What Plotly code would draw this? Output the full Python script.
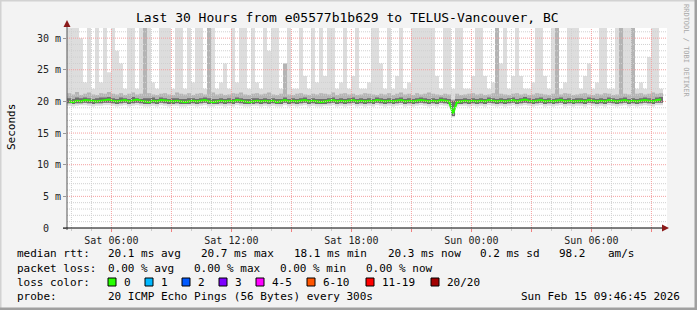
import plotly.graph_objects as go

# ---------------- data (12-minute columns, hours since Sat 03:46:45) ----------------
COL_HOURS = 0.2
ping_max = [
    45, 45, 45, 30, 23, 45, 22, 45, 23, 45,
    24.6, 45, 28, 26, 22, 45, 45, 22, 45, 45,
    45, 23, 22, 45, 45, 45, 22, 45, 45, 22,
    45, 23, 45, 45, 22, 45, 45, 22, 23, 26,
    22, 45, 23, 45, 45, 22, 45, 23, 22, 45,
    28, 45, 45, 22, 26, 45, 22, 22, 45, 24,
    22, 45, 23, 45, 24, 45, 45, 22, 23, 45,
    22, 24, 45, 22, 22, 23, 45, 45, 26, 22,
    45, 22, 24, 45, 22, 23, 45, 45, 45, 45,
    45, 45, 24, 22, 45, 45, 22, 45, 45, 22,
    22, 24, 45, 45, 24, 22, 23, 45, 26, 45,
    22, 24, 45, 24, 22, 22, 23, 45, 45, 24,
    22, 45, 45, 22, 23, 45, 45, 45, 22, 24,
    26, 22, 23, 45, 45, 22, 22, 45, 45, 45,
    45, 45, 22, 23, 22, 27, 45, 45, 22]
ping_p90 = [
    21.3, 21.1, 21.5, 21.0, 21.2, 21.4, 21.1, 21.0, 21.3, 21.2,
    21.5, 21.2, 21.1, 21.3, 21.0, 21.2, 21.4, 21.1, 21.2, 45,
    21.3, 21.1, 21.0, 21.2, 21.3, 21.1, 21.0, 21.4, 21.2, 21.1,
    21.3, 21.0, 21.2, 21.3, 21.1, 45, 21.4, 21.1, 21.2, 21.0,
    21.1, 21.3, 21.2, 21.4, 21.1, 21.0, 21.2, 21.3, 21.1, 21.2,
    21.4, 21.1, 21.0, 21.2, 26.0, 21.1, 21.0, 21.2, 21.3, 21.1,
    21.0, 21.2, 21.1, 21.3, 21.2, 21.1, 21.4, 21.0, 21.2, 21.3,
    21.1, 21.2, 21.0, 21.1, 21.3, 21.2, 21.1, 21.0, 21.2, 21.1,
    21.3, 21.0, 21.2, 21.4, 21.1, 21.2, 21.0, 21.3, 21.1, 21.2,
    21.4, 21.2, 21.1, 21.0, 21.2, 21.1, 20.3, 21.2, 21.0, 21.1,
    21.2, 21.3, 21.1, 21.2, 21.0, 21.1, 21.3, 45, 21.2, 21.1,
    21.0, 21.2, 21.3, 21.1, 21.2, 21.0, 21.1, 21.3, 21.2, 21.1,
    21.0, 21.2, 45, 21.1, 21.3, 21.2, 21.0, 21.1, 21.2, 21.3,
    21.1, 21.0, 21.2, 21.1, 21.3, 21.2, 21.0, 21.1, 45, 21.2,
    21.1, 45, 21.2, 21.3, 21.1, 21.2, 21.4, 21.2, 21.3]
ping_p75 = [
    20.5, 20.4, 20.6, 20.5, 20.6, 20.5, 20.4, 20.5, 20.6, 20.6,
    20.7, 20.5, 20.4, 20.6, 20.5, 20.4, 20.7, 20.5, 20.4, 20.5,
    20.5, 20.6, 20.4, 20.6, 20.5, 20.4, 20.5, 20.5, 20.4, 20.4,
    20.5, 20.5, 20.4, 20.5, 20.6, 20.5, 20.4, 20.4, 20.5, 20.4,
    20.5, 20.4, 20.6, 20.5, 20.4, 20.4, 20.5, 20.5, 20.4, 20.5,
    20.4, 20.5, 20.4, 20.4, 20.6, 20.4, 20.5, 20.4, 20.5, 20.6,
    20.4, 20.5, 20.4, 20.4, 20.4, 20.5, 20.6, 20.4, 20.5, 20.4,
    20.5, 20.6, 20.4, 20.5, 20.4, 20.5, 20.4, 20.6, 20.5, 20.4,
    20.5, 20.4, 20.5, 20.6, 20.4, 20.5, 20.4, 20.5, 20.6, 20.5,
    20.4, 20.5, 20.4, 20.6, 20.5, 20.4, 20.1, 20.4, 20.4, 20.5,
    20.4, 20.5, 20.4, 20.5, 20.4, 20.6, 20.5, 20.4, 20.5, 20.4,
    20.5, 20.6, 20.4, 20.5, 20.7, 20.5, 20.4, 20.5, 20.6, 20.4,
    20.5, 20.4, 20.5, 20.6, 20.4, 20.5, 20.4, 20.5, 20.5, 20.4,
    20.6, 20.5, 20.4, 20.5, 20.4, 20.6, 20.5, 20.4, 20.5, 20.6,
    20.4, 20.5, 20.4, 20.5, 20.6, 20.5, 20.4, 20.6, 20.7]
median_rtt = [
    20.0, 19.9, 20.1, 20.0, 20.2, 20.1, 20.0, 20.0, 20.1, 20.2,
    20.3, 20.1, 20.0, 20.1, 20.2, 20.0, 20.1, 20.3, 20.1, 20.0,
    19.9, 20.1, 20.0, 20.2, 20.1, 20.0, 20.0, 20.1, 20.0, 19.9,
    20.0, 20.1, 20.0, 20.1, 20.2, 20.0, 19.9, 20.0, 20.1, 20.0,
    20.1, 20.0, 20.2, 20.1, 20.0, 19.9, 20.0, 20.1, 20.0, 20.1,
    20.0, 20.1, 19.9, 20.0, 20.2, 20.0, 20.1, 20.0, 20.1, 20.2,
    20.0, 20.1, 20.0, 19.9, 20.0, 20.1, 20.2, 20.0, 20.1, 20.0,
    20.1, 20.2, 20.0, 20.1, 20.0, 20.1, 20.0, 20.2, 20.1, 20.0,
    20.1, 20.0, 20.1, 20.2, 20.0, 20.1, 20.0, 20.1, 20.2, 20.1,
    20.0, 20.1, 20.0, 20.2, 20.1, 20.0, 18.1, 19.9, 20.0, 20.1,
    20.0, 20.1, 20.0, 20.1, 20.0, 20.2, 20.1, 20.0, 20.1, 20.0,
    20.1, 20.2, 20.0, 20.1, 20.3, 20.1, 20.0, 20.1, 20.2, 20.0,
    20.1, 20.0, 20.1, 20.2, 20.0, 20.1, 20.0, 20.1, 20.1, 20.0,
    20.2, 20.1, 20.0, 20.1, 20.0, 20.2, 20.1, 20.0, 20.1, 20.2,
    20.0, 20.1, 20.0, 20.1, 20.2, 20.1, 20.0, 20.2, 20.3]
ping_p25 = [
    19.7, 19.6, 19.7, 19.7, 19.8, 19.7, 19.6, 19.7, 19.7, 19.8,
    19.8, 19.7, 19.6, 19.7, 19.8, 19.6, 19.7, 19.8, 19.7, 19.6,
    19.6, 19.7, 19.6, 19.8, 19.7, 19.6, 19.6, 19.7, 19.6, 19.6,
    19.6, 19.7, 19.6, 19.7, 19.8, 19.6, 19.6, 19.6, 19.7, 19.6,
    19.7, 19.6, 19.8, 19.7, 19.6, 19.6, 19.6, 19.7, 19.6, 19.7,
    19.6, 19.7, 19.6, 19.6, 19.8, 19.6, 19.7, 19.6, 19.7, 19.8,
    19.6, 19.7, 19.6, 19.6, 19.6, 19.7, 19.8, 19.6, 19.7, 19.6,
    19.7, 19.8, 19.6, 19.7, 19.6, 19.7, 19.6, 19.8, 19.7, 19.6,
    19.7, 19.6, 19.7, 19.8, 19.6, 19.7, 19.6, 19.7, 19.8, 19.7,
    19.6, 19.7, 19.6, 19.8, 19.7, 19.6, 17.7, 19.6, 19.6, 19.7,
    19.6, 19.7, 19.6, 19.7, 19.6, 19.8, 19.7, 19.6, 19.7, 19.6,
    19.7, 19.8, 19.6, 19.7, 19.8, 19.7, 19.6, 19.7, 19.8, 19.6,
    19.7, 19.6, 19.7, 19.8, 19.6, 19.7, 19.6, 19.7, 19.7, 19.6,
    19.8, 19.7, 19.6, 19.7, 19.6, 19.8, 19.7, 19.6, 19.7, 19.8,
    19.6, 19.7, 19.6, 19.7, 19.8, 19.7, 19.6, 19.8, 19.8]
ping_min = [
    19.3, 19.2, 19.3, 19.4, 19.4, 19.3, 19.2, 19.3, 19.3, 19.4,
    19.4, 19.3, 19.2, 19.3, 19.4, 19.2, 19.3, 19.4, 19.3, 19.2,
    19.2, 19.3, 19.2, 19.4, 19.3, 19.2, 19.3, 19.3, 19.2, 19.2,
    19.3, 19.3, 19.2, 19.3, 19.4, 19.2, 19.2, 19.3, 19.3, 19.2,
    19.3, 19.2, 19.4, 19.3, 19.2, 19.2, 19.3, 19.3, 19.2, 19.3,
    19.2, 19.3, 19.2, 19.2, 19.4, 19.2, 19.3, 19.2, 19.3, 19.4,
    19.2, 19.3, 19.2, 19.2, 19.3, 19.3, 19.4, 19.2, 19.3, 19.2,
    19.3, 19.4, 19.2, 19.3, 19.2, 19.3, 19.2, 19.4, 19.3, 19.2,
    19.3, 19.2, 19.3, 19.4, 19.2, 19.3, 19.2, 19.3, 19.4, 19.3,
    19.2, 19.3, 19.2, 19.4, 19.3, 19.2, 17.5, 19.2, 19.3, 19.3,
    19.2, 19.3, 19.2, 19.3, 19.2, 19.4, 19.3, 19.2, 19.3, 19.2,
    19.3, 19.4, 19.2, 19.3, 19.4, 19.3, 19.2, 19.3, 19.4, 19.2,
    19.3, 19.2, 19.3, 19.4, 19.2, 19.3, 19.2, 19.3, 19.3, 19.2,
    19.4, 19.3, 19.2, 19.3, 19.2, 19.4, 19.3, 19.2, 19.3, 19.4,
    19.2, 19.3, 19.2, 19.3, 19.4, 19.3, 19.2, 19.4, 19.4]

x_tick_hours = [2.220833, 8.220833, 14.220833, 20.220833, 26.220833]
x_tick_labels = ["Sat 06:00", "Sat 12:00", "Sat 18:00", "Sun 00:00", "Sun 06:00"]
y_tick_vals = [0, 5, 10, 15, 20, 25, 30]
y_tick_labels = ["0\u00a0\u00a0", "5 m", "10 m", "15 m", "20 m", "25 m", "30 m"]

title_text = "Last 30 Hours from e05577b1b629 to TELUS-Vancouver, BC"
rtt_row = ["median rtt:", "20.1 ms avg", "20.7 ms max", "18.1 ms min", "20.3 ms now", "0.2 ms sd", "98.2", "am/s"]
loss_row = ["packet loss:", "0.00 % avg", "0.00 % max", "0.00 % min", "0.00 % now"]
loss_labels = ["0", "1", "2", "3", "4-5", "6-10", "11-19", "20/20"]
loss_colors = ["#26ff00", "#00b8ff", "#0059ff", "#7e00ff", "#ff00ff", "#ff5500", "#ff0000", "#a10000"]
probe_text = "20 ICMP Echo Pings (56 Bytes) every 300s"
stamp_text = "Sun Feb 15 09:46:45 2026"

# ---------------- geometry ----------------
W, H = 697, 310
L, R, T, B = 67, 667, 28, 228
X_RANGE = [0, 30]
Y_RANGE = [0, 31.6]
MONO = "DejaVu Sans Mono"


def px(xp):
    return (xp - L) / (R - L)


def py(yp):
    return (B - yp) / (B - T)


n = len(median_rtt)
x_edges = [i * COL_HOURS for i in range(n + 1)]


def step(vals):
    return x_edges, list(vals) + [vals[-1]]


fig = go.Figure()


def band(lo, hi, color):
    xs, ys = step(lo)
    fig.add_trace(go.Scatter(x=xs, y=ys, mode="lines", line=dict(width=0, shape="hv"),
                             hoverinfo="skip", showlegend=False))
    xs, ys = step(hi)
    fig.add_trace(go.Scatter(x=xs, y=ys, mode="lines", line=dict(width=0, shape="hv"),
                             fill="tonexty", fillcolor=color, hoverinfo="skip", showlegend=False))


band(ping_min, ping_max, "#dddddd")
band(ping_p25, ping_p90, "#b4b4b4")
band(ping_p25, ping_p75, "#6e6e6e")

x_mid = [(x_edges[i] + x_edges[i + 1]) / 2 for i in range(n)]
fig.add_trace(go.Scatter(x=x_mid, y=median_rtt, mode="lines",
                         line=dict(color=loss_colors[0], width=2.2), showlegend=False))

# tick positions every 3 hours, labelled every 6 hours
tick_vals_x, tick_text_x = [], []
for k in range(-1, 10):
    v = x_tick_hours[0] + 3 * k
    if X_RANGE[0] < v < X_RANGE[1]:
        tick_vals_x.append(v)
        tick_text_x.append(x_tick_labels[k // 2] if k % 2 == 0 and 0 <= k // 2 < len(x_tick_labels) else "")

shapes = []
major_x = tick_vals_x
minor_x = [x_tick_hours[0] - 2 + k for k in range(0, 31)]
minor_x = [v for v in minor_x if X_RANGE[0] < v < X_RANGE[1]
           and all(abs(v - m) > 1e-6 for m in major_x)]
for v in minor_x:
    shapes.append(dict(type="line", xref="x", yref="paper", x0=v, x1=v, y0=0, y1=1,
                       line=dict(color="#d0d0d0", width=1, dash="1px,1px"), layer="above"))
for v in range(1, 32):
    if v % 5 and v < Y_RANGE[1]:
        shapes.append(dict(type="line", xref="paper", yref="y", x0=0, x1=1, y0=v, y1=v,
                           line=dict(color="#d0d0d0", width=1, dash="1px,1px"), layer="above"))
for v in major_x:
    shapes.append(dict(type="line", xref="x", yref="paper", x0=v, x1=v, y0=0, y1=1,
                       line=dict(color="#f4a0a0", width=1, dash="1px,1px"), layer="above"))
for v in y_tick_vals[1:]:
    shapes.append(dict(type="line", xref="paper", yref="y", x0=0, x1=1, y0=v, y1=v,
                       line=dict(color="#f4a0a0", width=1, dash="1px,1px"), layer="above"))

# axes with arrows
shapes.append(dict(type="line", xref="paper", yref="paper", x0=px(67), x1=px(67), y0=py(230), y1=py(25),
                   line=dict(color="#555555", width=1), layer="above"))
shapes.append(dict(type="line", xref="paper", yref="paper", x0=px(63), x1=px(664), y0=py(228), y1=py(228),
                   line=dict(color="#000000", width=1), layer="above"))
shapes.append(dict(type="path", xref="paper", yref="paper",
                   path=f"M {px(63.5)} {py(27)} L {px(67)} {py(20)} L {px(70.5)} {py(27)} Z",
                   fillcolor="#8b1a1a", line=dict(width=0), layer="above"))
shapes.append(dict(type="path", xref="paper", yref="paper",
                   path=f"M {px(662)} {py(224.5)} L {px(669)} {py(228)} L {px(662)} {py(231.5)} Z",
                   fillcolor="#8b1a1a", line=dict(width=0), layer="above"))

# frame
shapes.append(dict(type="line", xref="paper", yref="paper", x0=px(0), x1=px(W), y0=py(0.5), y1=py(0.5),
                   line=dict(color="#d2d2d2", width=2)))
shapes.append(dict(type="line", xref="paper", yref="paper", x0=px(0.5), x1=px(0.5), y0=py(0), y1=py(H),
                   line=dict(color="#d2d2d2", width=2)))
shapes.append(dict(type="line", xref="paper", yref="paper", x0=px(0), x1=px(W), y0=py(H - 1), y1=py(H - 1),
                   line=dict(color="#a0a0a0", width=3)))
shapes.append(dict(type="line", xref="paper", yref="paper", x0=px(W - 1), x1=px(W - 1), y0=py(0), y1=py(H),
                   line=dict(color="#a0a0a0", width=3)))

# loss colour squares
sq_x = [108, 145, 182, 219, 256, 307, 366, 431]
lab_x = [123, 160, 197, 234, 271, 322, 381, 446]
for i, c in enumerate(loss_colors):
    shapes.append(dict(type="rect", xref="paper", yref="paper",
                       x0=px(sq_x[i]), x1=px(sq_x[i] + 8), y0=py(278), y1=py(286),
                       fillcolor=c, line=dict(color="#000000", width=1)))

ann = []


def text(s, xp, yp, size=11, anchor="left", color="#000000", angle=0, yanchor="middle"):
    ann.append(dict(text=s, x=px(xp), y=py(yp), xref="paper", yref="paper", showarrow=False,
                    xanchor=anchor, yanchor=yanchor, textangle=angle, borderpad=0,
                    font=dict(family=MONO, size=size, color=color)))


text(title_text, 347.5, 18, size=13, anchor="center")
text("Seconds", 11, 127, size=11, anchor="center", angle=-90)
text("RRDTOOL / TOBI OETIKER", 686, 51, size=7, anchor="center", color="#a8a8a8", angle=90)

rtt_x = [16, 107, 200, 293, 387, 479, 558, 607]
for s, xp in zip(rtt_row, rtt_x):
    text(s, xp, 254)
loss_x = [16, 107, 193, 279, 365]
for s, xp in zip(loss_row, loss_x):
    text(s, xp, 268)
text("loss color:", 16, 282)
for s, xp in zip(loss_labels, lab_x):
    text(s, xp, 282)
text("probe:", 16, 296)
text(probe_text, 107, 296)
text(stamp_text, 681, 296, anchor="right")

fig.update_layout(
    width=W, height=H,
    margin=dict(l=L, r=W - R, t=T, b=H - B, pad=0),
    paper_bgcolor="#f3f3f3", plot_bgcolor="#ffffff",
    shapes=shapes, annotations=ann, showlegend=False,
    xaxis=dict(range=X_RANGE, tickvals=tick_vals_x, ticktext=tick_text_x, showgrid=False,
               zeroline=False, showline=False, ticks="outside", ticklen=3, tickcolor="#f08080",
               tickfont=dict(family=MONO, size=10, color="#222222"),
               minor=dict(tick0=x_tick_hours[0], dtick=1, ticks="outside", ticklen=2,
                          tickcolor="#c8c8c8", showgrid=False)),
    yaxis=dict(range=Y_RANGE, tickvals=y_tick_vals, ticktext=y_tick_labels, showgrid=False,
               zeroline=False, showline=False, ticks="outside", ticklen=3, tickcolor="#999999",
               tickfont=dict(family=MONO, size=10, color="#222222")),
)

fig.write_html("out.html")
